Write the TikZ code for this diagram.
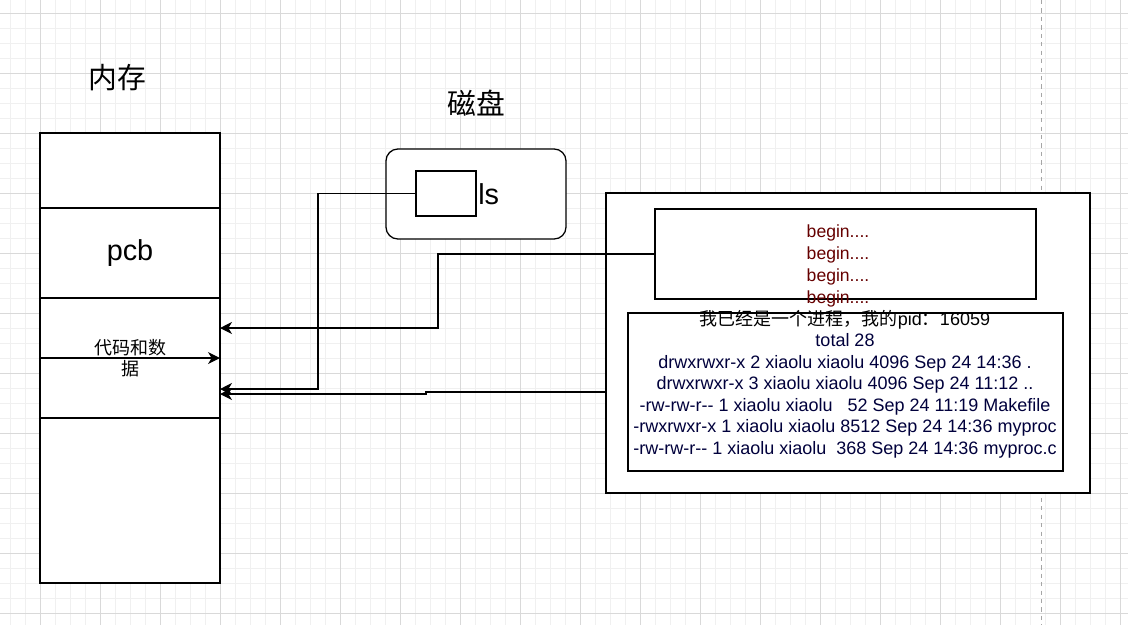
\documentclass[tikz,border=0pt]{standalone}
\usepackage{fontspec}
\setmainfont{Liberation Sans}
\newfontfamily\cjk{Noto Sans CJK SC}
\usepackage{xcolor}
\usepackage{tikz}
\usetikzlibrary{arrows.meta,positioning}

\definecolor{termblue}{RGB}{0,0,60}
\definecolor{echored}{RGB}{102,0,0}

\begin{document}
\begin{tikzpicture}[x=0.025cm,y=-0.025cm]
	\tikzstyle{gridminor}=[draw=black!6, line width=0.5pt]
	\tikzstyle{gridmajor}=[draw=black!15, line width=0.7pt]
	\tikzstyle{cell}=[draw, line width=0.9pt, fill=white, minimum width=4.5cm, inner sep=0pt, outer sep=0pt]
	\tikzstyle{frame}=[draw, line width=0.9pt, fill=white, inner sep=0pt, outer sep=0pt]
	\tikzstyle{heading}=[font=\fontsize{20.5}{24}\selectfont\cjk]
	\tikzstyle{shell}=[align=center, inner sep=0pt, font=\fontsize{12.8}{15.3}\selectfont]
	\tikzset{link/.style = {line width=0.9pt, -{Stealth[length=8.5pt, width=8.5pt, inset=2.5pt]}}}

	% canvas and grid
	\useasboundingbox (0,0) rectangle (1128,625);
	\fill[white] (0,0) rectangle (1128,625);
	\foreach \x in {10,25,...,1128} \draw[gridminor] (\x,0) -- (\x,625);
	\foreach \y in {13,28,...,625} \draw[gridminor] (0,\y) -- (1128,\y);
	\foreach \x in {40,100,...,1128} \draw[gridmajor] (\x,0) -- (\x,625);
	\foreach \y in {13,73,...,625} \draw[gridmajor] (0,\y) -- (1128,\y);
	\draw[black!35, line width=0.7pt, dash pattern=on 3pt off 3pt] (1041,0) -- (1041,625);

	% memory
	\node[heading](memtitle) at (117,78) {内存};
	\node[cell, minimum height=1.875cm](mem1) at (130,170.5) {};
	\node[cell, minimum height=2.25cm, below=0pt of mem1, font=\fontsize{20.5}{24}\selectfont](pcb) {pcb};
	\node[cell, minimum height=3cm, below=0pt of pcb](code) {};
	\node[cell, minimum height=4.125cm, below=0pt of code](mem4) {};
	\draw[link](code.west) -- (code.east);
	\node[shell, font=\fontsize{12.8}{15}\selectfont\cjk](codetext) at (code.center) {代码和数\\据};

	% disk
	\node[heading](disktitle) at (476,103) {磁盘};
	\node[frame, rounded corners=0.3cm, minimum width=4.5cm, minimum height=2.25cm](disk) at (476,194) {};
	\node[frame, minimum width=1.5cm, minimum height=1.125cm](lsbox) at (446,193.5) {};
	\node[anchor=base west, inner sep=0pt, font=\fontsize{20.5}{24}\selectfont](lstext) at (478,204) {ls};

	% process
	\node[frame, minimum width=12.1cm, minimum height=7.5cm](proc) at (848,343) {};
	\node[frame, minimum width=9.525cm, minimum height=2.25cm](echo) at (845.5,254) {};
	\node[frame, minimum width=10.875cm, minimum height=3.95cm](term) at (845.5,392) {};
	\node[shell, text=echored, font=\fontsize{12.5}{15.8}\selectfont](echotext) at (838,266) {begin....\\begin....\\begin....\\begin....};
	\node[shell, text=termblue](termtext) at (845,384) {\textcolor{black}{{\cjk 我已经是一个进程，我的}pid{\cjk ：}16059}\\
		total 28\\
		drwxrwxr-x 2 xiaolu xiaolu 4096 Sep 24 14:36 .\\
		drwxrwxr-x 3 xiaolu xiaolu 4096 Sep 24 11:12 ..\\
		-rw-rw-r-{}- 1 xiaolu xiaolu\ \ \ 52 Sep 24 11:19 Makefile\\
		-rwxrwxr-x 1 xiaolu xiaolu 8512 Sep 24 14:36 myproc\\
		-rw-rw-r-{}- 1 xiaolu xiaolu\ \ 368 Sep 24 14:36 myproc.c};

	% connectors
	\coordinate (echoin) at (220,328);
	\coordinate (lsin) at (220,389);
	\coordinate (outin) at (220,394);
	\draw[link](echo.west) -- ++(-217,0) |- (echoin);
	\draw[link](lsbox.west) -- ++(-98,0) |- (lsin);
	\draw[link](proc.west |- term.center) -- ++(-180,0) |- (outin);
\end{tikzpicture}
\end{document}
